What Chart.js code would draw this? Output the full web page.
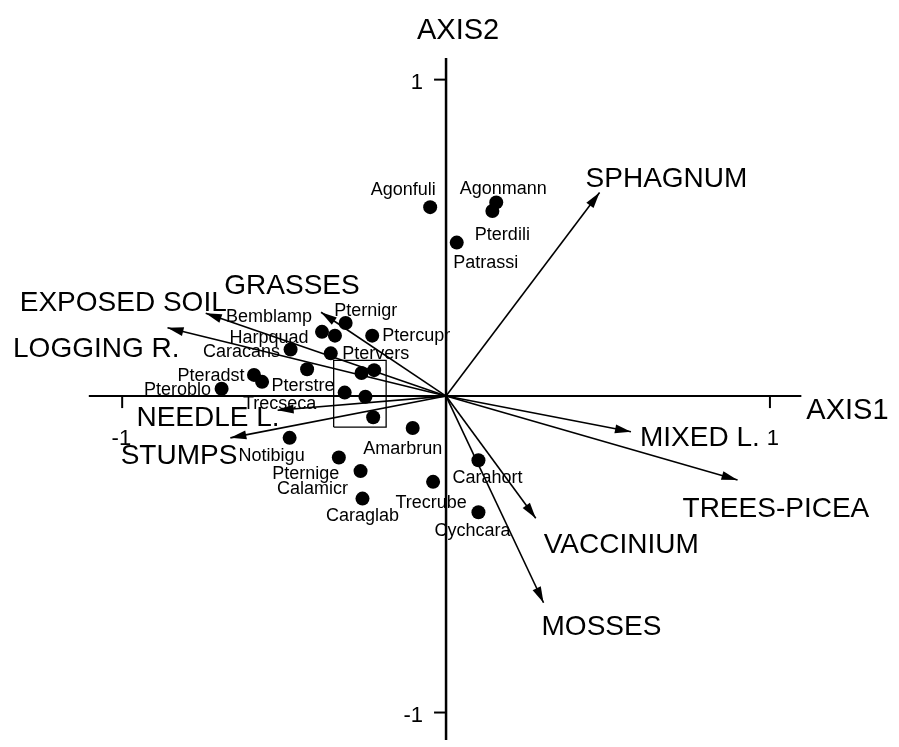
<!DOCTYPE html>
<html>
<head>
<meta charset="utf-8">
<script src="https://cdn.jsdelivr.net/npm/chart.js@4.4.1/dist/chart.umd.min.js"></script>
<style>
  html, body { margin: 0; padding: 0; background: #fff; }
  canvas { display: block; }
</style>
</head>
<body>
<canvas id="biplot" width="899" height="747"></canvas>
<script>
// species scores on the two ordination axes ('' = unlabelled point)
var speciesNames = ['Agonfuli', 'Agonmann', 'Pterdili', 'Patrassi', 'Pternigr', 'Bemblamp', 'Harpquad',
  'Ptercupr', 'Caracans', 'Ptervers', '', 'Pteradst', 'Pterstre', 'Pteroblo', '', '', 'Trecseca', '', '',
  'Amarbrun', 'Notibigu', 'Pternige', 'Calamicr', 'Caraglab', 'Trecrube', 'Carahort', 'Cychcara'];
var speciesAxis1 = [-0.049, 0.155, 0.143, 0.033, -0.310, -0.383, -0.343,
  -0.228, -0.480, -0.356, -0.429, -0.593, -0.568, -0.693, -0.261, -0.222, -0.313, -0.249, -0.225,
  -0.103, -0.483, -0.331, -0.264, -0.258, -0.040, 0.100, 0.100];
var speciesAxis2 = [0.597, 0.612, 0.585, 0.485, 0.231, 0.203, 0.191,
  0.191, 0.147, 0.135, 0.085, 0.067, 0.045, 0.023, 0.073, 0.082, 0.011, -0.002, -0.067,
  -0.101, -0.132, -0.194, -0.237, -0.324, -0.271, -0.203, -0.367];

// environmental variables, arrow tips
var envNames = ['SPHAGNUM', 'EXPOSED SOIL', 'LOGGING R.', 'GRASSES', 'NEEDLE L.', 'STUMPS',
  'MIXED L.', 'TREES-PICEA', 'VACCINIUM', 'MOSSES'];
var envAxis1 = [0.474, -0.742, -0.860, -0.386, -0.520, -0.666, 0.571, 0.900, 0.277, 0.301];
var envAxis2 = [0.643, 0.262, 0.216, 0.265, -0.045, -0.132, -0.113, -0.265, -0.386, -0.653];

var tickValues = [-1, 1];
var tickLabels = ['-1', '1'];
var axisTitles = ['AXIS1', 'AXIS2'];
var axis1Extent = [-1.103, 1.097];
var axis2Extent = [-1.09, 1.068];

// box drawn round the crowded group
var boxAxis1 = [-0.347, -0.185];
var boxAxis2 = [-0.098, 0.113];

// label placement, pixels from the mark
var speciesLabelPlace = {
  Agonfuli: [-27, -17], Agonmann: [7, -13], Pterdili: [10, 24], Patrassi: [29, 20],
  Pternigr: [20, -12], Bemblamp: [-53, -15], Harpquad: [-66, 2], Ptercupr: [44, 0],
  Caracans: [-49, 2], Ptervers: [45, 1], Pteradst: [-43, 1], Pterstre: [41, 4],
  Pteroblo: [-44, 1], Trecseca: [-65, 11], Amarbrun: [-10, 21], Notibigu: [-18, 18],
  Pternige: [-33, 17], Calamicr: [-48, 18], Caraglab: [0, 17], Trecrube: [-2, 21],
  Carahort: [9, 18], Cychcara: [-6, 19]
};
var envLabelPlace = [
  [-14, -13, 'left'], [21, -10, 'right'], [12, 22, 'right'], [-29, -26, 'center'],
  [2, 8, 'right'], [7, 18, 'right'], [9, 6, 'left'], [-55, 29, 'left'],
  [8, 27, 'left'], [-2, 25, 'left']
];

var FONT = "'Liberation Sans', Arial, sans-serif";

var datasets = [];
// the two axes
datasets.push({ data: [{ x: axis1Extent[0], y: 0 }, { x: axis1Extent[1], y: 0 }],
  showLine: true, borderColor: '#000', borderWidth: 2, pointRadius: 0 });
datasets.push({ data: [{ x: 0, y: axis2Extent[1] }, { x: 0, y: axis2Extent[0] }],
  showLine: true, borderColor: '#000', borderWidth: 2.5, pointRadius: 0 });
// arrows
envNames.forEach(function (n, i) {
  datasets.push({ data: [{ x: 0, y: 0 }, { x: envAxis1[i], y: envAxis2[i] }],
    showLine: true, borderColor: '#000', borderWidth: 1.6, pointRadius: 0 });
});
// box
datasets.push({ data: [
  { x: boxAxis1[0], y: boxAxis2[0] }, { x: boxAxis1[1], y: boxAxis2[0] },
  { x: boxAxis1[1], y: boxAxis2[1] }, { x: boxAxis1[0], y: boxAxis2[1] },
  { x: boxAxis1[0], y: boxAxis2[0] }],
  showLine: true, borderColor: '#000', borderWidth: 1.3, pointRadius: 0 });
// species points
datasets.push({ data: speciesAxis1.map(function (v, i) { return { x: v, y: speciesAxis2[i] }; }),
  pointRadius: 7, pointBackgroundColor: '#000', pointBorderWidth: 0 });

var biplotDecor = {
  id: 'biplotDecor',
  afterDatasetsDraw: function (chart) {
    var ctx = chart.ctx, xs = chart.scales.x, ys = chart.scales.y;
    var x0 = xs.getPixelForValue(0), y0 = ys.getPixelForValue(0);
    ctx.save();
    ctx.fillStyle = '#000';
    ctx.strokeStyle = '#000';

    // arrow heads
    envNames.forEach(function (n, i) {
      var tx = xs.getPixelForValue(envAxis1[i]), ty = ys.getPixelForValue(envAxis2[i]);
      var a = Math.atan2(ty - y0, tx - x0);
      var len = 16, half = 4.5;
      ctx.beginPath();
      ctx.moveTo(tx, ty);
      ctx.lineTo(tx - len * Math.cos(a) + half * Math.sin(a), ty - len * Math.sin(a) - half * Math.cos(a));
      ctx.lineTo(tx - len * Math.cos(a) - half * Math.sin(a), ty - len * Math.sin(a) + half * Math.cos(a));
      ctx.closePath();
      ctx.fill();
    });

    // ticks
    ctx.lineWidth = 2;
    ctx.font = '22px ' + FONT;
    ctx.textBaseline = 'middle';
    ctx.textAlign = 'right';
    tickValues.forEach(function (v, i) {
      var px = xs.getPixelForValue(v);
      ctx.beginPath(); ctx.moveTo(px, y0); ctx.lineTo(px, y0 + 12); ctx.stroke();
      ctx.fillText(tickLabels[i], px + 9, y0 + 43);
      var py = ys.getPixelForValue(v);
      ctx.beginPath(); ctx.moveTo(x0, py); ctx.lineTo(x0 - 12, py); ctx.stroke();
      ctx.fillText(tickLabels[i], x0 - 23, py + 3);
    });

    // axis titles
    ctx.font = '29px ' + FONT;
    ctx.textAlign = 'left';
    ctx.fillText(axisTitles[0], xs.getPixelForValue(axis1Extent[1]) + 5, y0 + 15);
    ctx.textAlign = 'center';
    ctx.fillText(axisTitles[1], x0 + 12, ys.getPixelForValue(axis2Extent[1]) - 27);

    // environmental labels
    ctx.font = '28px ' + FONT;
    envNames.forEach(function (n, i) {
      var p = envLabelPlace[i];
      ctx.textAlign = p[2];
      ctx.fillText(n, xs.getPixelForValue(envAxis1[i]) + p[0], ys.getPixelForValue(envAxis2[i]) + p[1]);
    });

    // species labels
    ctx.font = '18px ' + FONT;
    ctx.textAlign = 'center';
    speciesNames.forEach(function (n, i) {
      if (!n) return;
      var p = speciesLabelPlace[n];
      ctx.fillText(n, xs.getPixelForValue(speciesAxis1[i]) + p[0], ys.getPixelForValue(speciesAxis2[i]) + p[1]);
    });
    ctx.restore();
  }
};

new Chart(document.getElementById('biplot').getContext('2d'), {
  type: 'scatter',
  data: { datasets: datasets },
  options: {
    responsive: false,
    animation: false,
    devicePixelRatio: 1,
    layout: { padding: 0 },
    plugins: { legend: { display: false }, tooltip: { enabled: false } },
    scales: {
      x: { type: 'linear', display: false, min: -1.3556, max: 1.3769 },
      y: { type: 'linear', display: false, min: -1.0868, max: 1.2295 }
    }
  },
  plugins: [biplotDecor]
});
</script>
</body>
</html>
